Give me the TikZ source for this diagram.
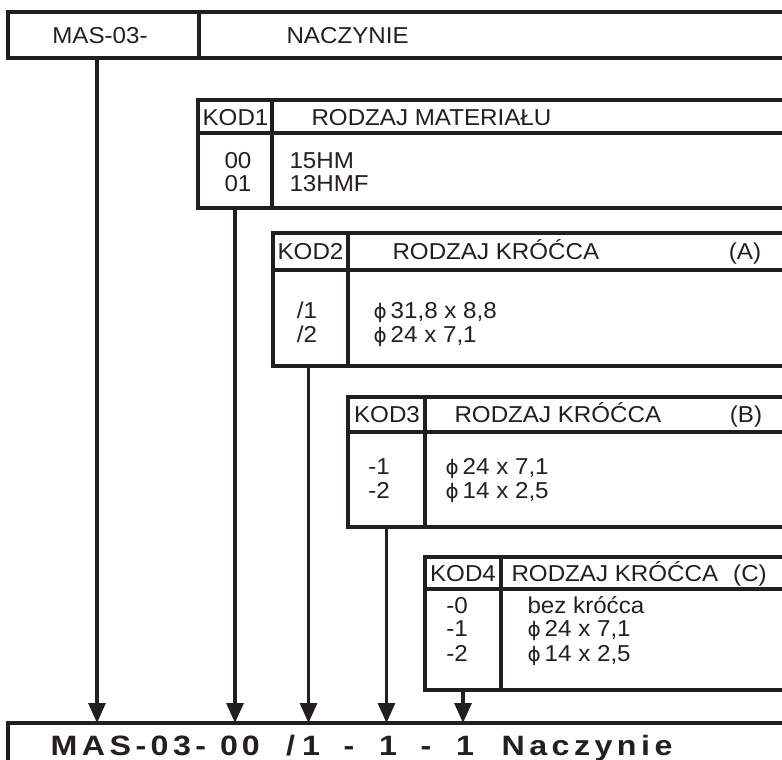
\documentclass[tikz,border=0pt]{standalone}
\usepackage{fontspec}
\setmainfont{Liberation Sans}[FakeStretch=1.05]
\newfontfamily\botfont{Liberation Sans}[FakeStretch=1.15]
\newfontfamily\phifont{DejaVu Sans}
\newcommand{\myphi}{{\phifont\fontsize{20}{25}\selectfont ϕ}\hspace{4pt}}
\usetikzlibrary{arrows.meta}
\definecolor{ink}{RGB}{35,31,32}
\newcommand{\mytab}[6]{%
  \node[cell, minimum width={(#6-#2)*1pt}, minimum height={(#4-#3)*1pt}] (#1kh) at (#2,#3) {};
  \node[cell, minimum width={(800-#6)*1pt}, minimum height={(#4-#3)*1pt}] (#1th) at (#6,#3) {};
  \node[cell, minimum width={(#6-#2)*1pt}, minimum height={(#5-#4)*1pt}] (#1kb) at (#2,#4) {};
  \node[cell, minimum width={(800-#6)*1pt}, minimum height={(#5-#4)*1pt}] (#1tb) at (#6,#4) {};
}
\begin{document}
\begin{tikzpicture}[x=1pt,y=-1pt, line width=3.1pt,
  cell/.style={draw=ink, rectangle, anchor=north west, inner sep=0pt, outer sep=0pt},
  txt/.style={font=\fontsize{23}{25}\selectfont, text=ink, inner sep=0pt, anchor=base},
  tw/.style={txt, anchor=base west},
  toptxt/.style={font=\fontsize{23}{25}\selectfont, text=ink, inner sep=0pt, anchor=base},
  bigtxt/.style={font=\botfont\fontsize{28}{30}\selectfont\bfseries, text=ink, inner sep=0pt, anchor=base},
  spaced/.style={font=\botfont\fontsize{28}{30}\selectfont\bfseries\addfontfeature{LetterSpace=16}, anchor=base west},
  arr/.style={draw=ink, -{Triangle[length=20pt,width=17pt]}}]
\fill[white] (0,0) rectangle (782,760);
\useasboundingbox (0,0) rectangle (782,760);
\clip (0,0) rectangle (782,760);

% top row
\node[cell, minimum width=191pt, minimum height=46pt] (topA) at (8,12) {};
\node[cell, minimum width=601pt, minimum height=46pt] (topB) at (199,12) {};
\node[toptxt] (tmas) at (100,43.5) {MAS-03-};
\node[toptxt, anchor=base west] (tnac) at (285,43.5) {NACZYNIE};

% tables
\mytab{ka}{198}{100}{133}{208}{272}
\mytab{kb}{273}{233}{270}{366}{348}
\mytab{kc}{348}{397}{432}{527}{425}
\mytab{kd}{425}{557}{589}{690}{501}

% KOD1
\node[txt] (h1) at (235.5,125) {KOD1};
\node[tw] (r1) at (310,125) {RODZAJ MATERIAŁU};
\node[txt] (c1a) at (238,168.5) {00};
\node[txt] (c1b) at (238,191.5) {01};
\node[tw] (d1a) at (288,168.5) {15HM};
\node[tw] (d1b) at (288,191.5) {13HMF};

% KOD2
\node[txt] (h2) at (310.5,259.5) {KOD2};
\node[tw] (r2) at (391,259.5) {RODZAJ KRÓĆCA};
\node[txt] (x2) at (745,259.5) {(A)};
\node[txt] (c2a) at (307,318) {/1};
\node[txt] (c2b) at (307,342) {/2};
\node[tw] (d2a) at (372,318) {\myphi 31,8 x 8,8};
\node[tw] (d2b) at (372,342) {\myphi 24 x 7,1};

% KOD3
\node[txt] (h3) at (387,422.5) {KOD3};
\node[tw] (r3) at (453,422.5) {RODZAJ KRÓĆCA};
\node[txt] (x3) at (746,422.5) {(B)};
\node[txt] (c3a) at (379,474.5) {-1};
\node[txt] (c3b) at (379,498) {-2};
\node[tw] (d3a) at (444,474.5) {\myphi 24 x 7,1};
\node[tw] (d3b) at (444,498) {\myphi 14 x 2,5};

% KOD4
\node[txt] (h4) at (463,581.5) {KOD4};
\node[tw] (r4) at (510,581.5) {RODZAJ KRÓĆCA};
\node[txt] (x4) at (750,581.5) {(C)};
\node[txt] (c4a) at (457,613) {-0};
\node[txt] (c4b) at (457,636.5) {-1};
\node[txt] (c4c) at (457,661) {-2};
\node[tw] (d4a) at (526,613) {bez króćca};
\node[tw] (d4b) at (526,636.5) {\myphi 24 x 7,1};
\node[tw] (d4c) at (526,661) {\myphi 14 x 2,5};

% bottom box
\node[cell, minimum width=800pt, minimum height=60pt] (bot) at (8,723) {};
\node[bigtxt, spaced] (bmas) at (49,755) {MAS-03-};
\node[bigtxt] (b00) at (240,755) {0\hspace{4pt}0};
\node[bigtxt] (bsl) at (303,755) {/\hspace{7pt}1};
\node[bigtxt] (bd1) at (349,755) {-};
\node[bigtxt] (b1) at (388,755) {1};
\node[bigtxt] (bd2) at (426,755) {-};
\node[bigtxt] (b2) at (465,755) {1};
\node[bigtxt, spaced] (bnac) at (500,755) {Naczynie};

% arrows
\coordinate (p1) at ([xshift=-6.5pt]topA.south);
\draw[arr] (p1) -- (p1 |- bot.north);
\draw[arr] (kakb.south) -- (kakb.south |- bot.north);
\draw[arr] ([xshift=-2pt]kbkb.south) -- ([xshift=-2pt]kbkb.south |- bot.north);
\draw[arr] (kckb.south) -- (kckb.south |- bot.north);
\draw[arr] (kdkb.south) -- (kdkb.south |- bot.north);
\end{tikzpicture}
\end{document}
